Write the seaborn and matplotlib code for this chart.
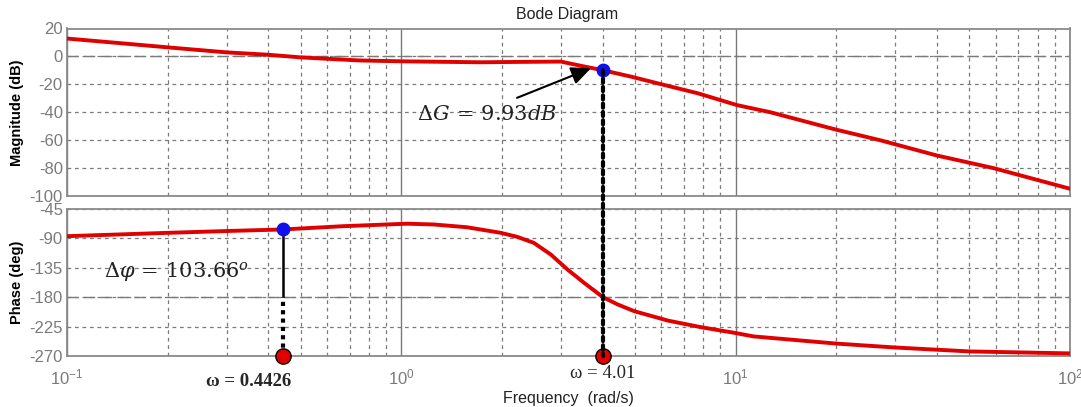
import numpy as np
import pandas as pd
import matplotlib
matplotlib.use("Agg")
import matplotlib.pyplot as plt
import seaborn as sns
from matplotlib.patches import ConnectionPatch
from matplotlib.ticker import LogLocator, FixedLocator

# ---- data ----
mag_freq = [0.1, 0.141, 0.2, 0.3, 0.4, 0.5, 0.75, 1.0, 1.73, 2.3, 3.0, 3.44, 4.01, 4.85, 6.1, 7.7,
            10.1, 12.7, 20.0, 27.0, 40.0, 59.0, 100.0]
mag_db = [12.8, 9.7, 6.5, 2.9, 1.2, -0.7, -2.9, -3.5, -4.2, -3.9, -3.7, -6.7, -9.93, -14.4, -20.4, -26.4,
          -34.9, -40.0, -52.5, -60.0, -71.0, -80.0, -94.8]

phase_freq = [0.1, 0.2, 0.31, 0.4426, 0.67, 1.04, 1.25, 1.57, 1.98, 2.22, 2.49, 2.80, 3.14, 3.52,
              4.01, 4.44, 4.98, 6.27, 7.89, 9.93, 11.3, 20.0, 30.0, 50.0, 100.0]
phase_deg = [-86.6, -81.5, -78.5, -76.34, -71.3, -67.5, -68.7, -72.9, -81.4, -87.6, -96.8, -114.7,
             -137.6, -158.0, -180.0, -191.2, -201.5, -215.8, -226.0, -234.6, -240.0, -251.0, -257.0,
             -263.0, -266.0]

gain_cross_w = 0.4426      # gain crossover frequency
gain_cross_phase = -76.34
phase_cross_w = 4.01       # phase crossover frequency
phase_cross_mag = -9.93

mag_ticks = [20, 0, -20, -40, -60, -80, -100]
phase_ticks = [-45, -90, -135, -180, -225, -270]

mag_df = pd.DataFrame({"freq": mag_freq, "mag": mag_db})
ph_df = pd.DataFrame({"freq": phase_freq, "phase": phase_deg})

sns.set_theme(style="white")
plt.rcParams["font.family"] = ["Liberation Sans", "DejaVu Sans"]
plt.rcParams["mathtext.fontset"] = "dejavuserif"
plt.rcParams["axes.unicode_minus"] = False

fig = plt.figure(figsize=(10.81, 4.07), dpi=100)
ax1 = fig.add_axes([67 / 1081, 1 - 196 / 407, 1003 / 1081, 167.5 / 407])
ax2 = fig.add_axes([67 / 1081, 1 - 356 / 407, 1003 / 1081, 147 / 407])

RED = "#e00000"
GRID = "#7a7a7a"
TICKC = "#7a7a7a"

for ax in (ax1, ax2):
    ax.set_xscale("log")
    ax.set_xlim(0.1, 100)
    ax.xaxis.set_major_locator(LogLocator(base=10, numticks=10))
    ax.xaxis.set_minor_locator(LogLocator(base=10, subs=np.arange(2, 10), numticks=20))
    ax.grid(which="major", axis="x", color=GRID, lw=1.0, ls="-")
    ax.grid(which="minor", axis="x", color=GRID, lw=0.9, ls=(0, (3, 3)))
    ax.grid(which="major", axis="y", color=GRID, lw=0.9, ls=(0, (3, 3)))
    for s in ax.spines.values():
        s.set_color("#8a8a8a")
        s.set_linewidth(1.3)
    ax.tick_params(which="both", length=0, labelsize=12, colors=TICKC, pad=3)
    ax.set_axisbelow(True)

# magnitude
sns.lineplot(data=mag_df, x="freq", y="mag", ax=ax1, color=RED, lw=2.8, sort=False, zorder=3)
ax1.set_ylim(-100, 20)
ax1.yaxis.set_major_locator(FixedLocator(mag_ticks))
ax1.tick_params(axis="x", which="both", labelbottom=False)
ax1.axhline(0, color=GRID, lw=1.0, ls=(0, (8, 4)), zorder=1)
ax1.set_xlabel("")
ax1.set_ylabel("Magnitude (dB)", fontsize=10.5, fontweight="bold", color="black", labelpad=4)

# phase
sns.lineplot(data=ph_df, x="freq", y="phase", ax=ax2, color=RED, lw=2.8, sort=False, zorder=3)
ax2.set_ylim(-270, -45)
ax2.yaxis.set_major_locator(FixedLocator(phase_ticks))
ax2.axhline(-180, color=GRID, lw=1.0, ls=(0, (8, 4)), zorder=1)
ax2.set_xlabel("")
ax2.set_ylabel("Phase (deg)", fontsize=10.5, fontweight="bold", color="black", labelpad=4)
ax2.tick_params(axis="x", pad=8)

# vertical markers
con = ConnectionPatch(xyA=(phase_cross_w, phase_cross_mag), coordsA=ax1.transData,
                      xyB=(phase_cross_w, -270), coordsB=ax2.transData,
                      color="black", lw=3.0, ls=(0, (1, 1)), zorder=4)
fig.add_artist(con)
ax2.vlines(gain_cross_w, -180, gain_cross_phase, color="black", lw=1.8, zorder=4)
ax2.vlines(gain_cross_w, -270, -180, color="black", lw=3.0, linestyles=[(0, (1, 1))], zorder=4)

# points
ax1.plot([phase_cross_w], [phase_cross_mag], "o", color="#1010ee", ms=9, zorder=6)
ax2.plot([gain_cross_w], [gain_cross_phase], "o", color="#1010ee", ms=9, zorder=6)
ax2.plot([gain_cross_w, phase_cross_w], [-270, -270], "o", color="#e00000", mec="black",
         mew=1.0, ms=11, zorder=6, clip_on=False)

# annotations
ax1.annotate("", xy=(3.76, -7.7), xytext=(2.18, -30.4),
             arrowprops=dict(arrowstyle="-|>,head_length=1.0,head_width=0.45", color="black", lw=1.5),
             zorder=5)
ax1.text(1.80, -41.8, r"$\Delta G\,=\,9.93dB$", fontsize=15, ha="center", va="center", color="#222222")
ax2.text(0.212, -141, r"$\Delta\varphi\,=\,103.66^{o}$", fontsize=15, ha="center", va="center", color="#222222")

fig.text(249 / 1081, 1 - 382 / 407, "ω = 0.4426", fontsize=13.5, fontweight="bold",
         family=["Liberation Serif", "DejaVu Serif"], ha="center", va="center")
fig.text(603 / 1081, 1 - 373 / 407, "ω = 4.01", fontsize=13.5,
         family=["Liberation Serif", "DejaVu Serif"], ha="center", va="center")

fig.text(568 / 1081, 1 - 398 / 407, "Frequency  (rad/s)", fontsize=11.5, ha="center", va="center", color="#222222")
fig.text(567 / 1081, 1 - 14 / 407, "Bode Diagram", fontsize=11.5, ha="center", va="center", color="#222222")

fig.savefig("out.png", dpi=100)
